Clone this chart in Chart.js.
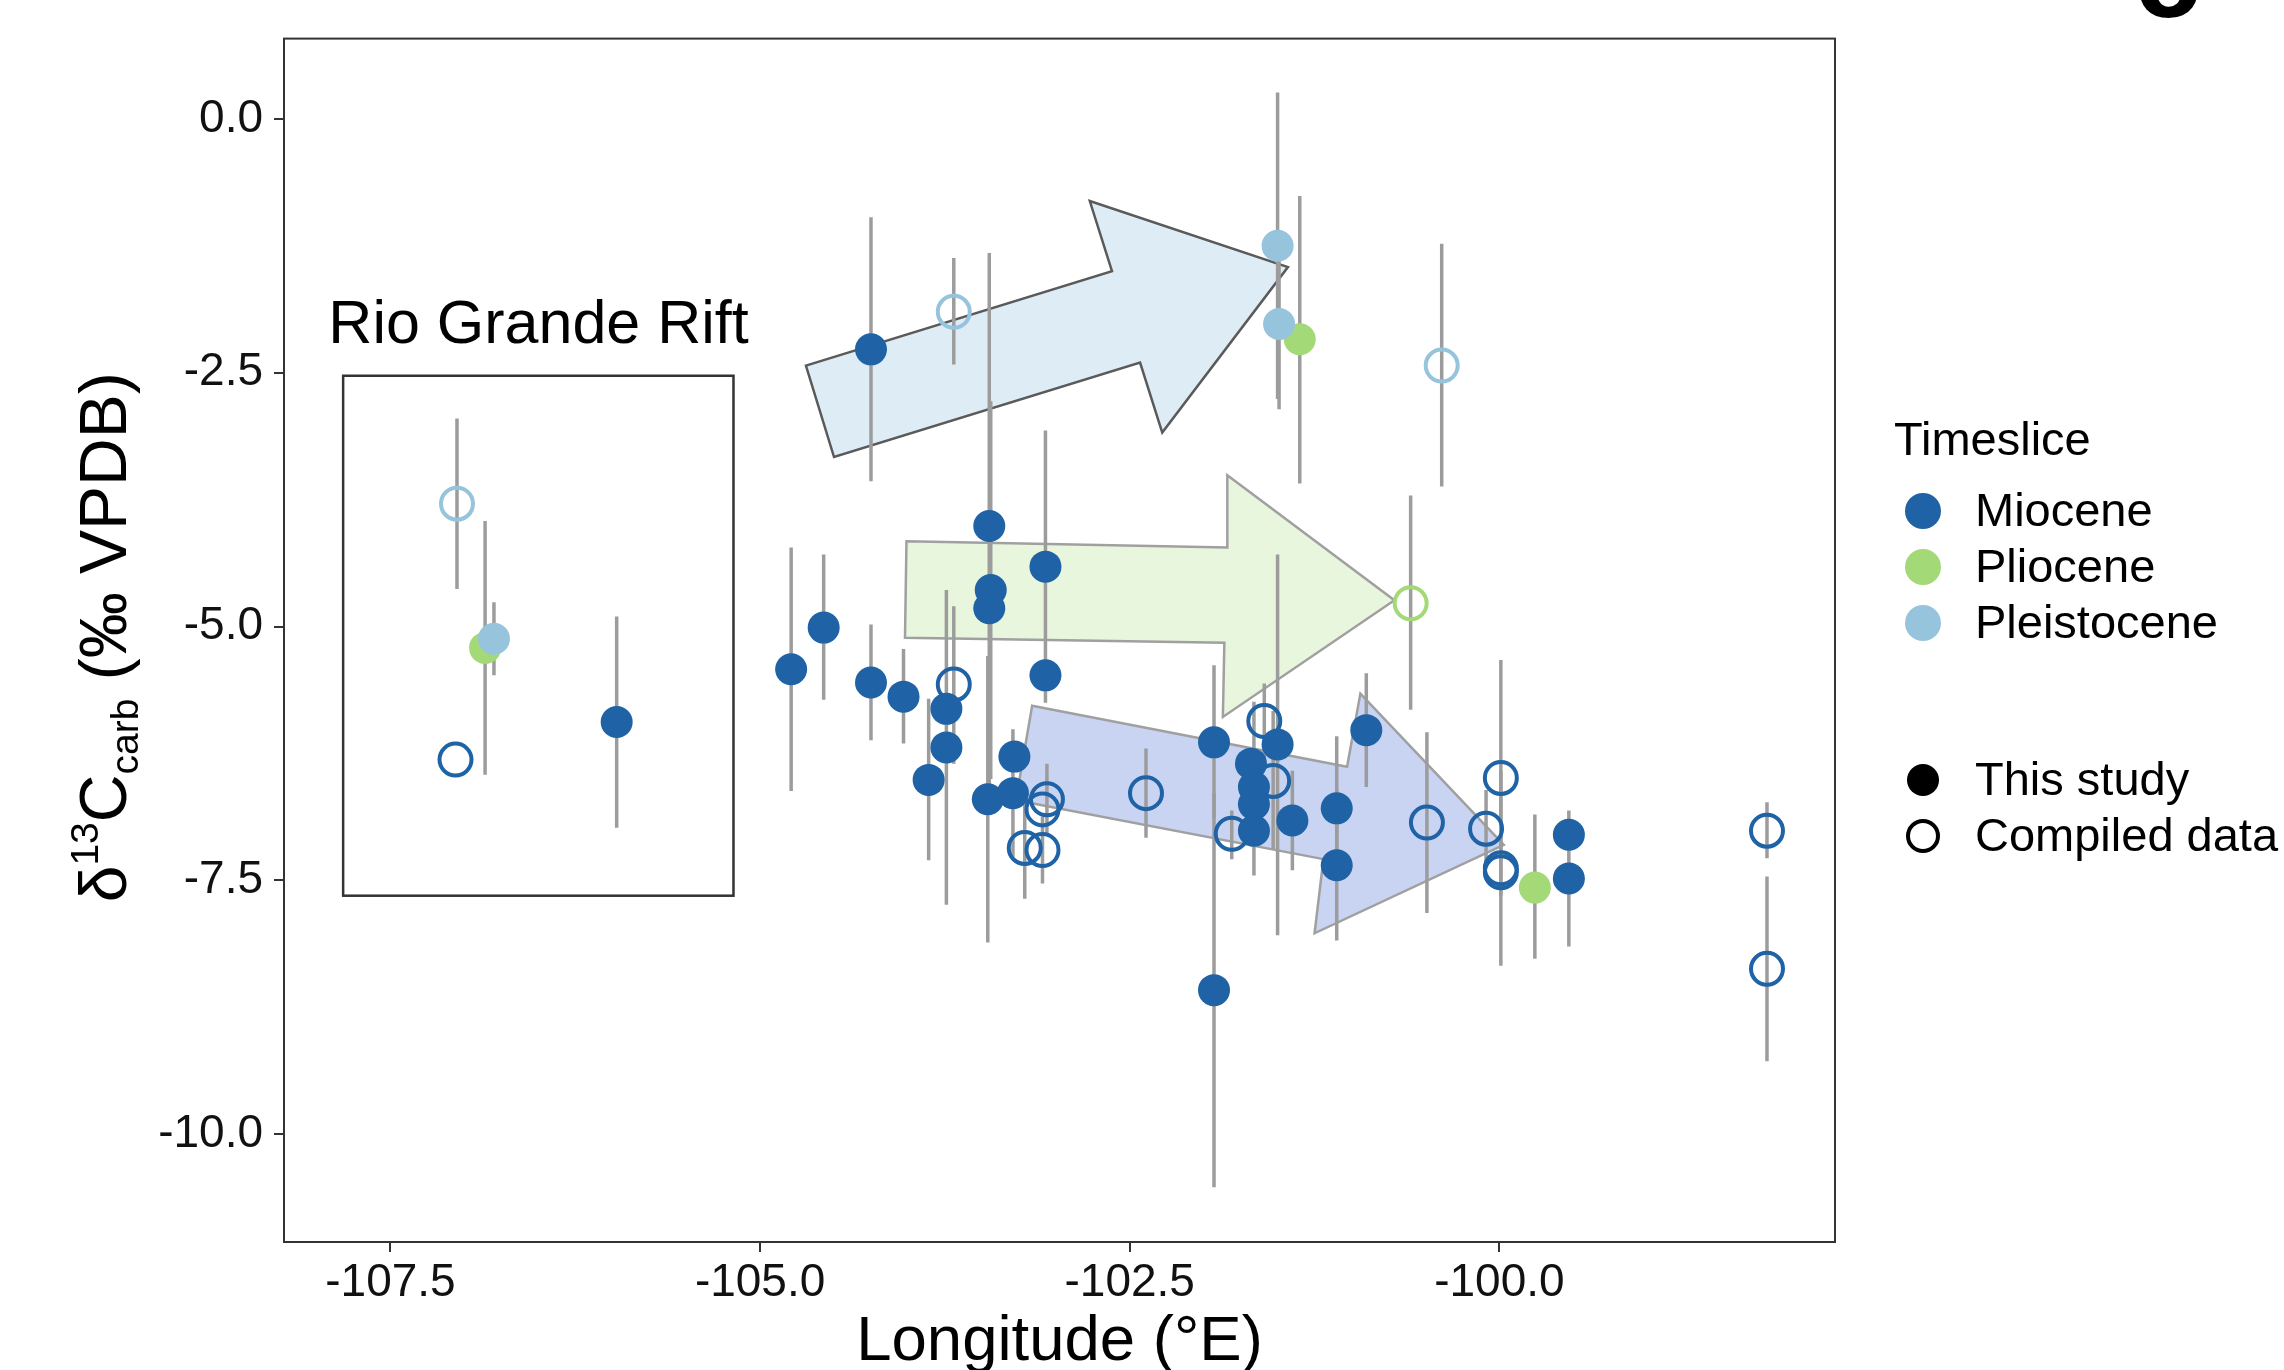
<!DOCTYPE html>
<html>
<head>
<meta charset="utf-8">
<script src="https://cdn.jsdelivr.net/npm/chart.js@4.4.1/dist/chart.umd.min.js"></script>
<style>
  body { margin: 0; background: #fff; }
  #wrap { width: 2284px; height: 1370px; }
</style>
</head>
<body>
<div id="wrap"><canvas id="chart" width="2284" height="1370"></canvas></div>
<script>
const FONT = '"Liberation Sans", Arial, Helvetica, sans-serif';

const periods = ["Miocene", "Pliocene", "Pleistocene"];
const periodColors = ["#1f62a5", "#a3d977", "#97c4dd"];
const sources = ["This study", "Compiled data"];

const xTicks = [-107.5, -105.0, -102.5, -100.0];
const yTicks = [-10.0, -7.5, -5.0, -2.5, 0.0];
const xMin = -108.22, xMax = -97.73;
const yMin = -11.06, yMax = 0.79;

// rows: [longitude, d13C, lower, upper] (null = no visible error bar)
const miocStudy = [
  [-104.25, -2.27, -3.57, -0.97],
  [-103.45, -4.01, -6.70, -1.32],
  [-103.07, -4.41, -5.75, -3.07],
  [-103.44, -4.64, -6.50, -2.78],
  [-103.45, -4.82, null, null],
  [-103.07, -5.48, null, null],
  [-104.79, -5.42, -6.62, -4.22],
  [-104.57, -5.01, -5.72, -4.29],
  [-104.25, -5.55, -6.12, -4.98],
  [-104.03, -5.69, -6.15, -5.22],
  [-103.74, -5.81, null, null],
  [-103.74, -6.19, -7.74, -4.64],
  [-103.86, -6.51, -7.30, -5.71],
  [-103.28, -6.28, null, null],
  [-103.29, -6.64, -7.27, -6.01],
  [-103.46, -6.70, -8.11, -5.29],
  [-101.93, -6.14, -6.88, -5.38],
  [-101.93, -8.58, -10.52, -6.64],
  [-101.50, -6.16, -8.04, -4.29],
  [-101.68, -6.35, null, null],
  [-101.66, -6.58, -7.45, -5.74],
  [-101.66, -6.75, null, null],
  [-101.66, -7.01, null, null],
  [-101.40, -6.91, -7.40, -6.42],
  [-101.10, -6.79, -7.50, -6.08],
  [-101.10, -7.35, -8.09, -6.61],
  [-100.90, -6.02, -6.58, -5.46],
  [-99.53, -7.05, null, null],
  [-99.53, -7.48, -8.15, -6.81],
  [-105.97, -5.94, -6.98, -4.90],
];
const miocComp = [
  [-103.69, -5.57, -6.35, -4.80],
  [-103.06, -6.70, -7.05, -6.35],
  [-103.09, -6.80, null, null],
  [-103.21, -7.18, -7.68, -6.68],
  [-103.09, -7.20, -7.53, -6.87],
  [-102.39, -6.64, -7.08, -6.20],
  [-101.59, -5.93, -6.30, -5.56],
  [-101.53, -6.52, -7.19, -5.83],
  [-101.81, -7.04, -7.29, -6.81],
  [-100.49, -6.93, -7.82, -6.04],
  [-100.09, -6.99, -7.37, -6.61],
  [-99.99, -6.49, -7.65, -5.33],
  [-99.99, -7.38, -8.34, -6.42],
  [-99.99, -7.42, null, null],
  [-98.19, -7.01, -7.28, -6.73],
  [-98.19, -8.37, -9.28, -7.46],
  [-107.06, -6.31, null, null],
];
const plioStudy = [
  [-101.35, -2.17, -3.59, -0.76],
  [-99.76, -7.57, -8.27, -6.85],
  [-106.86, -5.21, -6.46, -3.96],
];
const plioComp = [
  [-100.60, -4.77, -5.82, -3.71],
];
const pleiStudy = [
  [-101.50, -1.25, -2.76, 0.26],
  [-101.49, -2.02, -2.86, -1.18],
  [-106.80, -5.12, -5.48, -4.76],
];
const pleiComp = [
  [-103.69, -1.90, -2.42, -1.37],
  [-100.39, -2.43, -3.62, -1.23],
  [-107.05, -3.79, -4.63, -2.95],
];

// trend arrows, vertices in data units
const arrowPleistocene = [[-104.69, -2.43], [-102.62, -1.50], [-102.77, -0.81], [-101.43, -1.46], [-102.28, -3.09], [-102.43, -2.40], [-104.50, -3.33]];
const arrowPliocene = [[-104.01, -4.16], [-101.84, -4.22], [-101.84, -3.51], [-100.71, -4.74], [-101.87, -5.89], [-101.86, -5.16], [-104.02, -5.11]];
const arrowMiocene = [[-103.16, -5.78], [-101.03, -6.38], [-100.94, -5.66], [-99.97, -7.15], [-101.25, -8.02], [-101.19, -7.29], [-103.27, -6.71]];

// Rio Grande Rift box: [xLeft, xRight, yBottom, yTop] and label anchor
const rioBox = [-107.82, -105.18, -7.65, -2.53];
const rioLabel = [-107.92, -2.21];

function toPoints(rows) {
  return rows.map((r) => ({ x: r[0], y: r[1], lo: r[2], hi: r[3] }));
}

function makeSet(label, rows, color, filled) {
  return {
    label: label,
    data: toPoints(rows),
    pointRadius: 16,
    pointHoverRadius: 16,
    pointBackgroundColor: filled ? color : "rgba(0,0,0,0)",
    pointBorderColor: color,
    pointBorderWidth: filled ? 0 : 4,
    showLine: false,
  };
}

// drawn top-first: datasets[0] ends up on top
const datasets = [
  makeSet("Miocene / This study", miocStudy, periodColors[0], true),
  makeSet("Pleistocene / This study", pleiStudy, periodColors[2], true),
  makeSet("Pliocene / This study", plioStudy, periodColors[1], true),
  makeSet("Miocene / Compiled data", miocComp, periodColors[0], false),
  makeSet("Pliocene / Compiled data", plioComp, periodColors[1], false),
  makeSet("Pleistocene / Compiled data", pleiComp, periodColors[2], false),
];

function drawArrow(ctx, chart, verts, fill, stroke) {
  const xs = chart.scales.x, ys = chart.scales.y;
  ctx.beginPath();
  verts.forEach((v, i) => {
    const px = xs.getPixelForValue(v[0]);
    const py = ys.getPixelForValue(v[1]);
    if (i === 0) ctx.moveTo(px, py); else ctx.lineTo(px, py);
  });
  ctx.closePath();
  ctx.fillStyle = fill;
  ctx.fill();
  ctx.lineWidth = 2.5;
  ctx.lineJoin = "miter";
  ctx.strokeStyle = stroke;
  ctx.stroke();
}

const underlayPlugin = {
  id: "underlay",
  beforeDatasetsDraw(chart) {
    const ctx = chart.ctx, a = chart.chartArea;
    const xs = chart.scales.x, ys = chart.scales.y;
    ctx.save();
    ctx.beginPath();
    ctx.rect(a.left, a.top, a.right - a.left, a.bottom - a.top);
    ctx.clip();

    drawArrow(ctx, chart, arrowPleistocene, "#deedf5", "#5a5a5a");
    drawArrow(ctx, chart, arrowPliocene, "#e9f6de", "#a0a0a0");
    drawArrow(ctx, chart, arrowMiocene, "#c8d4f2", "#a0a0a0");

    // Rio Grande Rift box
    const bx0 = xs.getPixelForValue(rioBox[0]), bx1 = xs.getPixelForValue(rioBox[1]);
    const by0 = ys.getPixelForValue(rioBox[3]), by1 = ys.getPixelForValue(rioBox[2]);
    ctx.lineWidth = 2.5;
    ctx.strokeStyle = "#333";
    ctx.strokeRect(bx0, by0, bx1 - bx0, by1 - by0);

    // error bars under every point
    ctx.strokeStyle = "#9c9c9c";
    ctx.lineWidth = 3.5;
    ctx.lineCap = "butt";
    chart.data.datasets.forEach((ds) => {
      ds.data.forEach((p) => {
        if (p.lo === null || p.hi === null) return;
        const px = xs.getPixelForValue(p.x);
        ctx.beginPath();
        ctx.moveTo(px, ys.getPixelForValue(p.lo));
        ctx.lineTo(px, ys.getPixelForValue(p.hi));
        ctx.stroke();
      });
    });
    ctx.restore();
  },
  afterDraw(chart) {
    const ctx = chart.ctx, a = chart.chartArea;
    const xs = chart.scales.x, ys = chart.scales.y;
    ctx.save();

    // panel border
    ctx.lineWidth = 2;
    ctx.strokeStyle = "#333";
    ctx.strokeRect(a.left, a.top, a.right - a.left, a.bottom - a.top);

    // Rio Grande Rift label
    ctx.fillStyle = "#000";
    ctx.font = `61px ${FONT}`;
    ctx.textAlign = "left";
    ctx.textBaseline = "alphabetic";
    ctx.fillText("Rio Grande Rift", xs.getPixelForValue(rioLabel[0]), ys.getPixelForValue(rioLabel[1]));

    // x axis title
    ctx.font = `63.5px ${FONT}`;
    ctx.textAlign = "center";
    ctx.fillText("Longitude (°E)", (a.left + a.right) / 2, 1360);

    // y axis title with super/subscript
    const parts = [
      { t: "δ", size: 66, dy: 0 },
      { t: "13", size: 39, dy: -28 },
      { t: "C", size: 66, dy: 0 },
      { t: "carb", size: 39, dy: 12 },
      { t: " (‰ VPDB)", size: 66, dy: 0 },
    ];
    let total = 0;
    parts.forEach((p) => {
      ctx.font = `${p.size}px ${FONT}`;
      p.w = ctx.measureText(p.t).width;
      total += p.w;
    });
    ctx.translate(126, (a.top + a.bottom) / 2 - 3);
    ctx.rotate(-Math.PI / 2);
    ctx.textAlign = "left";
    let cx = -total / 2;
    parts.forEach((p) => {
      ctx.font = `${p.size}px ${FONT}`;
      ctx.fillText(p.t, cx, p.dy);
      cx += p.w;
    });
    ctx.setTransform(1, 0, 0, 1, 0, 0);

    // legend: timeslice colours
    ctx.fillStyle = "#000";
    ctx.font = `47px ${FONT}`;
    ctx.textAlign = "left";
    ctx.fillText("Timeslice", 1894, 455);
    ctx.textBaseline = "middle";
    periods.forEach((name, i) => {
      const y = 511 + i * 56;
      ctx.beginPath();
      ctx.arc(1923, y, 18, 0, Math.PI * 2);
      ctx.fillStyle = periodColors[i];
      ctx.fill();
      ctx.fillStyle = "#000";
      ctx.fillText(name, 1975, y + 2);
    });

    // legend: data source shapes
    sources.forEach((name, i) => {
      const y = 780 + i * 56;
      ctx.beginPath();
      if (i === 0) {
        ctx.arc(1923, y, 16, 0, Math.PI * 2);
        ctx.fillStyle = "#000";
        ctx.fill();
      } else {
        ctx.arc(1923, y, 15, 0, Math.PI * 2);
        ctx.lineWidth = 4;
        ctx.strokeStyle = "#000";
        ctx.stroke();
      }
      ctx.fillStyle = "#000";
      ctx.fillText(name, 1975, y + 2);
    });

    // cut-off panel letter at the top right
    ctx.textBaseline = "alphabetic";
    ctx.font = `bold 120px ${FONT}`;
    ctx.fillText("c", 2134, 17);
    ctx.restore();
  },
};

new Chart(document.getElementById("chart"), {
  type: "scatter",
  data: { datasets: datasets },
  options: {
    responsive: false,
    animation: false,
    devicePixelRatio: 1,
    events: [],
    layout: { padding: { left: 0, top: 38, right: 449, bottom: 0 } },
    plugins: {
      legend: { display: false },
      tooltip: { enabled: false },
    },
    scales: {
      x: {
        type: "linear",
        min: xMin,
        max: xMax,
        afterFit: (s) => { s.height = 128; },
        afterBuildTicks: (s) => { s.ticks = xTicks.map((v) => ({ value: v })); },
        grid: { drawOnChartArea: false, drawTicks: true, tickLength: 10, color: "#333", lineWidth: 2 },
        border: { display: false },
        ticks: {
          padding: 4,
          autoSkip: false,
          maxRotation: 0,
          color: "#111",
          font: { family: FONT, size: 46 },
          callback: (v) => Number(v).toFixed(1),
        },
      },
      y: {
        type: "linear",
        min: yMin,
        max: yMax,
        afterFit: (s) => { s.width = 284; },
        afterBuildTicks: (s) => { s.ticks = yTicks.map((v) => ({ value: v })); },
        grid: { drawOnChartArea: false, drawTicks: true, tickLength: 10, color: "#333", lineWidth: 2 },
        border: { display: false },
        ticks: {
          padding: 11,
          autoSkip: false,
          color: "#111",
          font: { family: FONT, size: 46 },
          callback: (v) => Number(v).toFixed(1),
        },
      },
    },
  },
  plugins: [underlayPlugin],
});
</script>
</body>
</html>
